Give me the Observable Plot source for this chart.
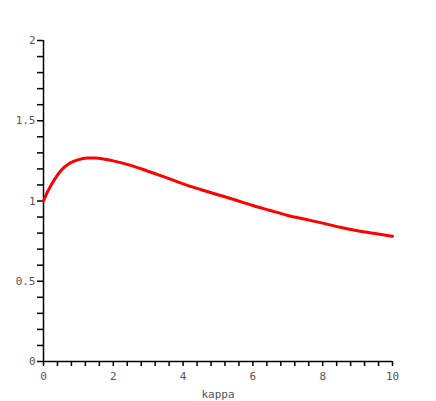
<!DOCTYPE html>
<html>
<head>
<meta charset="utf-8">
<script src="https://cdn.jsdelivr.net/npm/d3@7"></script>
<script src="https://cdn.jsdelivr.net/npm/@observablehq/plot@0.6"></script>
<style>
  html, body { margin: 0; padding: 0; background: #fff; }
</style>
</head>
<body>
<div id="chart"></div>
<script>
const kappa = [0, 0.1, 0.25, 0.5, 0.75, 1.0, 1.25, 1.5, 1.75, 2, 2.5, 3, 3.5, 4, 4.5, 5, 5.5, 6, 6.5, 7, 7.5, 8, 8.5, 9, 9.5, 10];
const value = [1.0, 1.05, 1.11, 1.19, 1.235, 1.258, 1.268, 1.268, 1.26, 1.25, 1.222, 1.185, 1.147, 1.107, 1.072, 1.039, 1.006, 0.972, 0.941, 0.91, 0.886, 0.862, 0.837, 0.815, 0.797, 0.78];
const xMajorTicks = [0, 2, 4, 6, 8, 10];
const xMinorTicks = d3.range(0, 10.001, 0.4).map(v => +v.toFixed(2));
const yMajorTicks = [0, 0.5, 1, 1.5, 2];
const yMinorTicks = d3.range(0, 2.001, 0.1).map(v => +v.toFixed(2));
const xLabel = "kappa";

const data = kappa.map((k, i) => ({k, v: value[i]}));
const font = "DejaVu Sans Mono, Liberation Mono, monospace";

const chart = Plot.plot({
  width: 436,
  height: 401,
  marginLeft: 43,
  marginRight: 44,
  marginTop: 40,
  marginBottom: 40,
  style: {fontFamily: font, fontSize: "11px", background: "#fff", overflow: "visible"},
  x: {domain: [0, 10]},
  y: {domain: [0, 2]},
  marks: [
    Plot.axisX({ticks: xMinorTicks, tickSize: 5, tickFormat: () => "", stroke: "#000", strokeWidth: 1.5, label: null}),
    Plot.axisX({ticks: xMajorTicks, tickSize: 0, tickPadding: 11, fill: "#555", label: null, tickFormat: d => d}),
    Plot.axisY({ticks: yMinorTicks, tickSize: 6, tickFormat: () => "", stroke: "#000", strokeWidth: 1.5, label: null}),
    Plot.axisY({ticks: yMajorTicks, tickSize: 0, tickPadding: 8, fill: "#555", label: null, tickFormat: d => d}),
    Plot.ruleX([0], {stroke: "#000", strokeWidth: 1.5}),
    Plot.ruleY([0], {stroke: "#000", strokeWidth: 1.5}),
    Plot.text([xLabel], {x: 5, frameAnchor: "bottom", dy: 33, lineAnchor: "middle", text: d => d, fill: "#555"}),
    Plot.line(data, {x: "k", y: "v", stroke: "red", strokeWidth: 3, curve: "monotone-x"})
  ]
});
document.getElementById("chart").appendChild(chart);
</script>
</body>
</html>
